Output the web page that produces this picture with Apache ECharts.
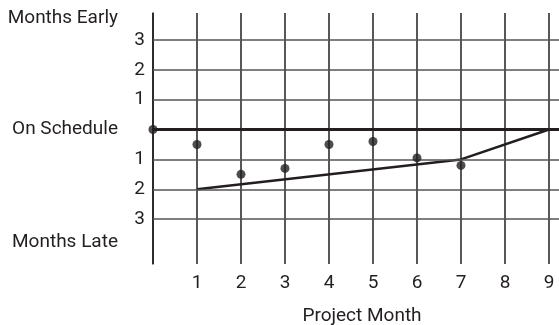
<!DOCTYPE html>
<html>
<head>
<meta charset="utf-8">
<script src="https://cdn.jsdelivr.net/npm/echarts@6/dist/echarts.min.js"></script>
<style>
  html, body { margin: 0; padding: 0; background: #fff; }
  #chart { width: 559px; height: 325px; }
</style>
</head>
<body>
<div id="chart"></div>
<script>
// project months with a status reading
const months = [0, 1, 2, 3, 4, 5, 6, 7];
// months early (+) / late (-) at each month
const status = [0, -0.5, -1.5, -1.3, -0.5, -0.4, -0.95, -1.2];
// trend line points [month, value]
const trendX = [1, 7, 9];
const trendY = [-2, -1, 0];
// reference lines and their labels
const gridLines = [3, 2, 1, -1, -2, -3];
const sideNames = ['Months Early', 'On Schedule', 'Months Late'];
const sideValues = [3.72, 0, -3.76];
const xTicks = [1, 2, 3, 4, 5, 6, 7, 8, 9];

const ink = '#231f20';
const font = 'Roboto';

let chart = echarts.init(document.getElementById('chart'));

let option = {
  animation: false,
  // the plot runs a bit past the right edge, as in the print
  grid: { left: 153, width: 418, top: 13, bottom: 61, outerBoundsMode: 'none' },
  xAxis: {
    type: 'value',
    min: 0,
    max: 9.5,
    interval: 1,
    name: 'Project Month',
    nameLocation: 'middle',
    nameGap: 43,
    nameTextStyle: { fontFamily: font, fontSize: 19, color: ink },
    axisLine: { show: false },
    axisTick: { show: false },
    axisLabel: {
      margin: 10,
      fontFamily: font, fontSize: 19, color: ink,
      formatter: function (v) { return xTicks.indexOf(v) >= 0 ? String(v) : ''; }
    },
    splitLine: { show: true, lineStyle: { color: ink, width: 1.5 } }
  },
  yAxis: [
    {
      type: 'value',
      min: -4.5,
      max: 3.9,
      axisLine: { show: true, lineStyle: { color: ink, width: 1.5 } },
      axisTick: { show: false },
      splitLine: { show: false },
      axisLabel: {
        customValues: gridLines,
        margin: 8,
        fontFamily: font, fontSize: 19, color: ink,
        formatter: function (v) { return String(Math.abs(v)); }
      }
    },
    {
      type: 'value',
      position: 'left',
      min: -4.5,
      max: 3.9,
      axisLine: { show: false },
      axisTick: { show: false },
      splitLine: { show: false },
      axisLabel: {
        customValues: sideValues,
        margin: 35,
        fontFamily: font, fontSize: 19, color: ink,
        formatter: function (v) {
          let i = sideValues.indexOf(v);
          return i >= 0 ? sideNames[i] : '';
        }
      }
    }
  ],
  series: [
    {
      type: 'line',
      data: trendX.map((x, i) => [x, trendY[i]]),
      showSymbol: false,
      lineStyle: { color: ink, width: 2.5 },
      markLine: {
        silent: true,
        symbol: 'none',
        label: { show: false },
        data: gridLines.map(v => ({ yAxis: v, lineStyle: { color: '#555', width: 1.5, type: 'solid' } }))
          .concat([{ yAxis: 0, lineStyle: { color: ink, width: 3, type: 'solid' } }])
      }
    },
    {
      type: 'scatter',
      data: months.map((m, i) => [m, status[i]]),
      symbolSize: 9,
      itemStyle: { color: ink },
      z: 5
    }
  ]
};

chart.setOption(option);
</script>
</body>
</html>
